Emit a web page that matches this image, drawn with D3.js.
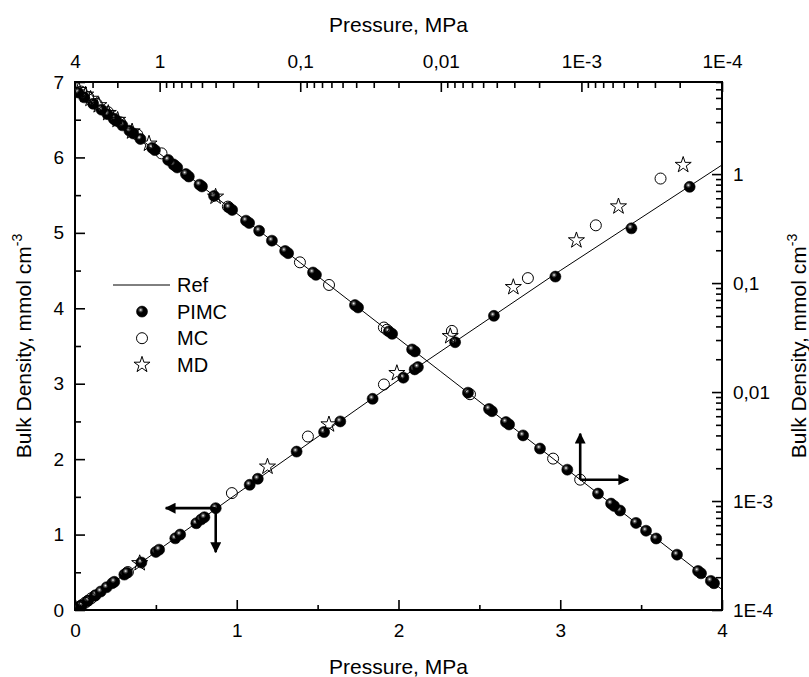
<!DOCTYPE html>
<html>
<head>
<meta charset="utf-8">
<script src="https://cdn.jsdelivr.net/npm/d3@7"></script>
<style>
body{margin:0;background:#fff}
text{font-family:"Liberation Sans",Arial,sans-serif;fill:#000}
</style>
</head>
<body>
<div class="canvas"></div>
<script>
// reference curve (pressure MPa, bulk density mmol/cm3)
const refP   = [0, 1e-4, 1e-3, 0.01, 0.1, 0.5, 1, 2, 3, 4]
const refRho = [0, 1.54e-4, 1.54e-3, 0.0154, 0.154, 0.77, 1.54, 3.05, 4.5, 5.9]

// PIMC
const pimcP = [1.14e-4, 1.20e-4, 1.41e-4, 1.48e-4, 2.09e-4, 2.94e-4, 3.47e-4, 4.09e-4, 5.31e-4, 5.86e-4,
  6.15e-4, 7.62e-4, 1.26e-3, 1.97e-3, 2.60e-3, 3.27e-3, 3.44e-3, 4.33e-3, 4.54e-3, 6.41e-3,
  0.0153, 0.0160, 0.0222, 0.0234, 0.0388, 0.0408, 0.0773, 0.0811, 0.122, 0.128,
  0.159, 0.196, 0.231, 0.243, 0.305, 0.321, 0.41, 0.50, 0.52, 0.62,
  0.65, 0.75, 0.78, 0.80, 0.87, 1.08, 1.13, 1.37, 1.54, 1.64,
  1.84, 2.03, 2.10, 2.12, 2.35, 2.59, 2.97, 3.44, 3.80]
const pimcRho = [1.76e-4, 1.85e-4, 2.17e-4, 2.28e-4, 3.22e-4, 4.53e-4, 5.34e-4, 6.30e-4, 8.18e-4, 9.02e-4,
  9.47e-4, 1.17e-3, 1.94e-3, 3.03e-3, 4.00e-3, 5.04e-3, 5.30e-3, 6.67e-3, 6.99e-3, 9.87e-3,
  0.0236, 0.0246, 0.0342, 0.0360, 0.0597, 0.0628, 0.119, 0.125, 0.188, 0.197,
  0.245, 0.302, 0.356, 0.374, 0.469, 0.494, 0.63, 0.77, 0.80, 0.95,
  1.00, 1.15, 1.20, 1.23, 1.35, 1.66, 1.74, 2.10, 2.36, 2.50,
  2.80, 3.08, 3.19, 3.22, 3.55, 3.90, 4.42, 5.06, 5.61]

// MC
const mcP   = [1.02e-3, 1.59e-3, 6.20e-3, 0.0242, 0.0254, 0.0624, 0.1005, 0.327, 0.97, 1.44, 1.91, 2.33, 2.80, 3.22, 3.62]
const mcRho = [1.57e-3, 2.45e-3, 9.55e-3, 0.0373, 0.0391, 0.0961, 0.155, 0.503, 1.55, 2.30, 2.99, 3.70, 4.40, 5.10, 5.72]

// MD
const mdP   = [0.40, 1.19, 1.57, 1.99, 2.32, 2.71, 3.10, 3.36, 3.76]
const mdRho = [0.62, 1.90, 2.46, 3.14, 3.63, 4.28, 4.90, 5.35, 5.90]

// tick labels
const bottomTicks = [0, 1, 2, 3, 4]
const leftTicks = [0, 1, 2, 3, 4, 5, 6, 7]
const topTicks = [4, 1, 0.1, 0.01, 1e-3, 1e-4]
const topLabels = ['4', '1', '0,1', '0,01', '1E-3', '1E-4']
const rightTicks = [1, 0.1, 0.01, 1e-3, 1e-4]
const rightLabels = ['1', '0,1', '0,01', '1E-3', '1E-4']

const margin = {top: 82, right: 87, bottom: 67, left: 75}
const graphWidth = 809 - margin.left - margin.right
const graphHeight = 677 - margin.top - margin.bottom

const svg = d3.select('.canvas').append('svg').attr('width', 809).attr('height', 677)
const graph = svg.append('g').attr('transform', `translate(${margin.left},${margin.top})`)

// scales: linear bottom/left, log top/right
const x = d3.scaleLinear().domain([0, 4]).range([0, graphWidth])
const y = d3.scaleLinear().domain([0, 7]).range([graphHeight, 0])
const xLog = d3.scaleLog().domain([4, 1e-4]).range([0, graphWidth])
const yLog = d3.scaleLog().domain([1e-4, 7]).range([graphHeight, 0])

const zip = (a, b) => a.map((v, i) => [v, b[i]])
const ref = zip(refP, refRho)
const pimc = zip(pimcP, pimcRho)
const mc = zip(mcP, mcRho)
const md = zip(mdP, mdRho)

// gradient for the ball markers
const defs = svg.append('defs')
const grad = defs.append('radialGradient').attr('id', 'ball').attr('cx', '38%').attr('cy', '35%').attr('r', '60%')
grad.append('stop').attr('offset', '0%').attr('stop-color', '#fff')
grad.append('stop').attr('offset', '22%').attr('stop-color', '#555')
grad.append('stop').attr('offset', '45%').attr('stop-color', '#000')
grad.append('stop').attr('offset', '100%').attr('stop-color', '#000')
defs.append('marker').attr('id', 'head').attr('viewBox', '0 0 10 10').attr('refX', 9).attr('refY', 5)
  .attr('markerWidth', 4.2).attr('markerHeight', 4.2).attr('orient', 'auto')
  .append('path').attr('d', 'M0,0L10,5L0,10Z').attr('fill', '#000')

// axes groups
const tickStyle = g => {
  g.select('.domain').remove()
  g.selectAll('line').attr('stroke', '#000').attr('stroke-width', 1.6)
  g.selectAll('text').attr('font-size', 19).attr('font-family', '"Liberation Sans",Arial,sans-serif')
}
graph.append('g').attr('transform', `translate(0,${graphHeight})`)
  .call(d3.axisBottom(x).tickValues(d3.range(0.5, 4, 1)).tickSize(-5).tickFormat('')).call(tickStyle)
graph.append('g').attr('transform', `translate(0,${graphHeight})`)
  .call(d3.axisBottom(x).tickValues(bottomTicks).tickSize(-10).tickPadding(14).tickFormat(d => d)).call(tickStyle)
graph.append('g')
  .call(d3.axisLeft(y).tickValues(d3.range(0.5, 7, 1)).tickSize(-6).tickFormat('')).call(tickStyle)
graph.append('g')
  .call(d3.axisLeft(y).tickValues(leftTicks).tickSize(-10).tickPadding(11).tickFormat(d => d)).call(tickStyle)
graph.append('g')
  .call(d3.axisTop(xLog).tickValues(xLog.ticks().filter(d => topTicks.indexOf(d) < 0)).tickSize(-6).tickFormat('')).call(tickStyle)
graph.append('g')
  .call(d3.axisTop(xLog).tickValues(topTicks).tickSize(-10).tickPadding(14).tickFormat((d, i) => topLabels[i])).call(tickStyle)
graph.append('g').attr('transform', `translate(${graphWidth},0)`)
  .call(d3.axisRight(yLog).tickValues(yLog.ticks().filter(d => rightTicks.indexOf(d) < 0)).tickSize(-6).tickFormat('')).call(tickStyle)
graph.append('g').attr('transform', `translate(${graphWidth},0)`)
  .call(d3.axisRight(yLog).tickValues(rightTicks).tickSize(-10).tickPadding(11).tickFormat((d, i) => rightLabels[i])).call(tickStyle)

// frame
graph.append('rect').attr('width', graphWidth).attr('height', graphHeight)
  .attr('fill', 'none').attr('stroke', '#000').attr('stroke-width', 2)

// axis titles
svg.append('text').attr('x', margin.left + graphWidth / 2).attr('y', 32).attr('text-anchor', 'middle')
  .attr('font-size', 21).text('Pressure, MPa')
svg.append('text').attr('x', margin.left + graphWidth / 2).attr('y', 674).attr('text-anchor', 'middle')
  .attr('font-size', 21).text('Pressure, MPa')
const yTitle = (xPos) => {
  const t = svg.append('text').attr('transform', `translate(${xPos},${margin.top + graphHeight / 2}) rotate(-90)`)
    .attr('text-anchor', 'middle').attr('font-size', 21)
  t.append('tspan').text('Bulk Density, mmol cm')
  t.append('tspan').attr('font-size', 14).attr('dy', -9).text('-3')
}
yTitle(31)
yTitle(806)

// reference lines
const clip = defs.append('clipPath').attr('id', 'plot')
clip.append('rect').attr('width', graphWidth).attr('height', graphHeight)
const plot = graph.append('g').attr('clip-path', 'url(#plot)')

const lineLin = d3.line().x(d => x(d[0])).y(d => y(d[1]))
const lineLog = d3.line().x(d => xLog(d[0])).y(d => yLog(d[1]))
plot.append('path').datum(ref).attr('d', lineLin).attr('fill', 'none').attr('stroke', '#000').attr('stroke-width', 1)
plot.append('path').datum(ref.filter(d => d[0] > 0)).attr('d', lineLog).attr('fill', 'none').attr('stroke', '#000').attr('stroke-width', 1)

// markers drawn on both axis pairs
const star = d3.symbol().type(d3.symbolStar).size(80)
const drawSet = (data, kind) => {
  [[x, y], [xLog, yLog]].forEach(([sx, sy]) => {
    const g = plot.append('g')
    if (kind === 'pimc') {
      g.selectAll('circle').data(data).enter().append('circle')
        .attr('cx', d => sx(d[0])).attr('cy', d => sy(d[1])).attr('r', 5.5)
        .attr('fill', 'url(#ball)').attr('stroke', '#000').attr('stroke-width', 0.6)
    } else if (kind === 'mc') {
      g.selectAll('circle').data(data).enter().append('circle')
        .attr('cx', d => sx(d[0])).attr('cy', d => sy(d[1])).attr('r', 5.5)
        .attr('fill', 'none').attr('stroke', '#000').attr('stroke-width', 1)
    } else {
      g.selectAll('path').data(data).enter().append('path').attr('d', star)
        .attr('transform', d => `translate(${sx(d[0])},${sy(d[1])})`)
        .attr('fill', 'none').attr('stroke', '#000').attr('stroke-width', 1)
    }
  })
}
drawSet(pimc, 'pimc')
drawSet(mc, 'mc')
drawSet(md, 'md')

// arrows marking which axes belong to which curve
const arrow = (x1, y1, x2, y2) => graph.append('line').attr('x1', x1).attr('y1', y1).attr('x2', x2).attr('y2', y2)
  .attr('stroke', '#000').attr('stroke-width', 2.6).attr('marker-end', 'url(#head)')
const a1 = [x(pimc[44][0]), y(pimc[44][1])]
arrow(a1[0], a1[1], a1[0] - 50, a1[1])
arrow(a1[0], a1[1], a1[0], a1[1] + 44)
const a2 = [xLog(mc[0][0]), yLog(mc[0][1])]
arrow(a2[0], a2[1], a2[0], a2[1] - 46)
arrow(a2[0], a2[1], a2[0] + 48, a2[1])

// legend
const legend = svg.append('g').attr('transform', 'translate(113,285)')
const rows = ['Ref', 'PIMC', 'MC', 'MD']
rows.forEach((name, i) => {
  const ly = i * 26.6
  if (i === 0) legend.append('line').attr('x1', 0).attr('x2', 57).attr('y1', ly).attr('y2', ly).attr('stroke', '#000')
  if (i === 1) legend.append('circle').attr('cx', 29).attr('cy', ly).attr('r', 5.5).attr('fill', 'url(#ball)').attr('stroke', '#000').attr('stroke-width', 0.6)
  if (i === 2) legend.append('circle').attr('cx', 29).attr('cy', ly).attr('r', 5.5).attr('fill', 'none').attr('stroke', '#000')
  if (i === 3) legend.append('path').attr('d', star).attr('transform', `translate(29,${ly})`).attr('fill', 'none').attr('stroke', '#000')
  legend.append('text').attr('x', 64).attr('y', ly + 7).attr('font-size', 20).text(name)
})
</script>
</body>
</html>
